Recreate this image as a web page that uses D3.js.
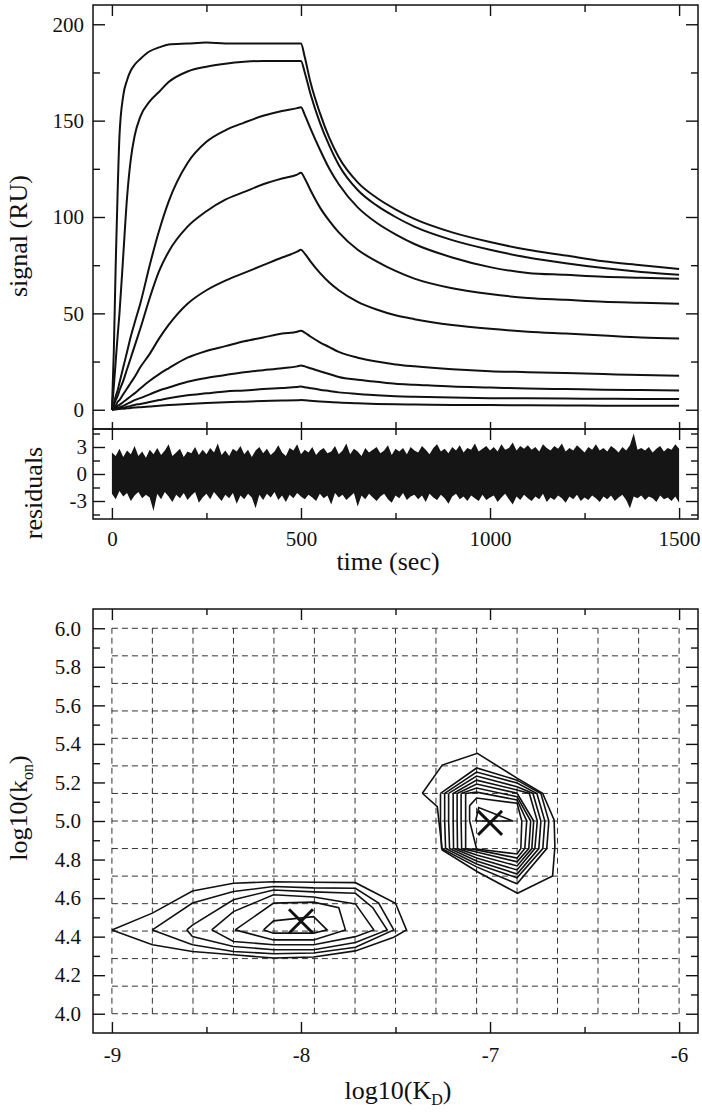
<!DOCTYPE html>
<html>
<head>
<meta charset="utf-8">
<script src="https://d3js.org/d3.v7.min.js"></script>
<style>
  body { margin: 0; background: #fff; }
  svg text { font-family: "Liberation Serif", "Times New Roman", serif; fill: #111; }
</style>
</head>
<body>
<div id="chart"></div>
<script>
// ---- sensorgram data (time in sec, signal in RU) ----
var sensorTimes = [0, 5, 10, 15, 20, 30, 40, 50, 60, 75, 100, 125, 150, 200, 250, 300, 350, 400, 450, 490, 500,
    510, 525, 550, 575, 600, 650, 700, 750, 800, 900, 1000, 1100, 1200, 1300, 1400, 1500];

var curve1 = [0, 30, 75, 112, 142, 163, 171, 176, 179, 182, 186, 188, 189.5, 190, 190.5, 190, 190, 190, 190, 190, 190,
    183, 170, 154, 141, 131, 118, 110, 104, 99, 92, 87, 83, 80, 77, 75, 73];
var curve2 = [0, 12, 25, 38, 50, 80, 110, 130, 142, 152, 160, 165, 170, 175.5, 178, 179.5, 180.5, 181, 181, 181, 181,
    175, 164, 149, 137, 127, 114, 106, 100, 95, 88, 83, 79, 76, 73.5, 71.5, 70];
var curve3 = [0, 3, 7, 10, 14, 22, 30, 38, 45, 55, 75, 93, 108, 128, 139, 145, 149, 152.5, 155, 156.5, 157,
    153, 146, 135, 125, 117, 105, 97, 91, 86, 79, 74, 71, 70, 69, 68.5, 68];
var curve4 = [0, 2, 5, 7, 10, 15, 21, 27, 33, 42, 58, 72, 82, 95, 103, 109, 113, 117, 120, 122, 123,
    120, 114, 105, 98, 92, 83, 77, 72, 68, 63, 60, 58, 57, 56, 55.5, 55];
var curve5 = [0, 1, 2, 4, 5, 8, 11, 14, 17, 22, 29, 37, 44, 55, 62, 67, 71, 75, 79, 82, 83,
    81, 77, 71, 66, 62, 56, 52, 49, 47, 44, 42, 40.5, 39.5, 38.5, 37.5, 37];
var curve6 = [0, 0.5, 1, 2, 2.5, 4, 5.5, 7, 8.5, 11, 15, 18.5, 21.5, 27, 30.5, 33, 35.5, 37.5, 39.5, 40.5, 41,
    40, 38, 35, 32.5, 30, 27, 25, 23.5, 22.5, 21, 20, 19.5, 19, 18.5, 18, 17.6];
var curve7 = [0, 0.3, 0.6, 1, 1.3, 2, 3, 4, 5, 6, 8, 10, 11.5, 14.5, 16.5, 18, 19.5, 20.5, 21.5, 22.5, 23,
    22.5, 21.5, 20, 18.5, 17, 15.5, 14.5, 13.5, 13, 12, 11.5, 11, 10.7, 10.4, 10.2, 10];
var curve8 = [0, 0.2, 0.3, 0.5, 0.7, 1, 1.5, 2, 2.5, 3, 4, 5, 6, 7.5, 8.5, 9.5, 10, 10.7, 11.3, 11.8, 12,
    11.7, 11.2, 10.4, 9.7, 9, 8.2, 7.5, 7, 6.7, 6.3, 6, 5.9, 5.8, 5.7, 5.6, 5.6];
var curve9 = [0, 0.1, 0.2, 0.3, 0.4, 0.5, 0.7, 0.9, 1.1, 1.3, 1.7, 2.1, 2.4, 3, 3.5, 3.9, 4.2, 4.5, 4.8, 4.95, 5,
    4.9, 4.6, 4.3, 4, 3.7, 3.3, 3, 2.8, 2.7, 2.5, 2.4, 2.3, 2.2, 2.1, 2.05, 2];
var curves = [curve1, curve2, curve3, curve4, curve5, curve6, curve7, curve8, curve9];

// ---- residual band, upper / lower envelope every 10 sec ----
var resHigh = [2.4, 2.0, 2.8, 1.9, 2.6, 2.2, 3.1, 2.0, 2.5, 1.8, 2.7,
    2.2, 2.9, 2.1, 2.6, 3.3, 2.0, 2.4, 2.8, 1.9, 2.5,
    2.3, 3.0, 2.1, 2.7, 2.2, 2.9, 2.4, 3.4, 2.1, 2.6,
    2.0, 2.8, 2.5, 3.1, 2.2, 2.7, 1.9, 2.6, 3.0, 2.3,
    2.8, 2.1, 2.5, 3.2, 2.4, 2.0, 2.9, 2.6, 3.3, 2.2,
    2.7, 2.4, 3.0, 2.1, 2.6, 2.9, 2.3, 2.5, 3.1, 2.2,
    2.6, 3.4, 2.2, 2.8, 2.5, 2.0, 2.9, 2.4, 2.7, 3.0,
    2.3, 2.6, 3.2, 2.1, 2.8, 2.5, 2.9, 2.2, 3.0, 2.6,
    2.4, 3.1, 2.7, 2.2, 2.9, 3.3, 2.5, 2.8, 2.3, 3.0,
    2.6, 3.2, 2.4, 2.9, 2.7, 3.4, 2.5, 2.8, 3.1, 2.6,
    3.0, 2.5, 3.3, 2.7, 2.9, 3.5, 2.6, 3.1, 2.8, 3.2,
    2.7, 3.0, 2.5, 3.3, 2.9, 2.6, 3.1, 2.8, 3.4, 2.5,
    2.9, 2.6, 3.2, 2.8, 2.4, 3.0, 2.7, 3.3, 2.6, 2.9,
    2.5, 3.1, 2.8, 2.4, 3.0, 2.6, 3.2, 4.5, 2.7, 2.9,
    2.6, 3.0, 2.4, 2.8, 3.1, 2.5, 2.9, 2.7, 3.3, 2.8];
var resLow = [-2.2, -2.8, -1.9, -2.5, -2.1, -3.0, -2.4, -2.0, -2.7, -2.3, -2.6,
    -4.1, -2.2, -2.8, -2.0, -2.5, -3.1, -2.3, -2.7, -2.1, -2.9,
    -2.4, -2.0, -3.2, -2.6, -2.2, -2.8, -2.0, -2.5, -3.0, -2.3,
    -2.7, -2.1, -3.3, -2.4, -2.8, -2.2, -2.6, -3.8, -2.3, -2.9,
    -2.2, -2.6, -2.0, -2.9, -2.4, -3.1, -2.3, -2.7, -2.1, -2.5,
    -2.8, -2.3, -2.6, -3.0, -2.2, -2.7, -2.4, -3.4, -2.1, -2.6,
    -2.3, -2.9, -2.5, -2.1, -3.6, -2.4, -2.8, -2.2, -2.6, -3.0,
    -2.5, -2.2, -2.8, -3.2, -2.4, -2.7, -2.1, -2.9, -2.5, -2.3,
    -2.8, -2.4, -3.1, -2.2, -2.6, -2.9, -2.3, -2.7, -3.3, -2.5,
    -2.2, -2.8, -2.5, -3.0, -2.4, -2.7, -3.0, -2.3, -2.9, -2.6,
    -2.4, -3.1, -2.6, -2.2, -2.8, -3.4, -2.5, -2.9, -2.3, -2.7,
    -3.0, -2.5, -2.8, -2.2, -3.1, -2.6, -2.9, -2.4, -2.7, -3.2,
    -2.5, -2.8, -2.3, -3.0, -2.6, -2.9, -2.4, -2.7, -3.1, -2.5,
    -2.8, -2.4, -3.0, -2.6, -2.3, -2.9, -3.8, -2.5, -2.7, -2.4,
    -2.9, -2.5, -2.7, -3.1, -2.4, -2.8, -2.6, -3.0, -2.5, -3.2];
var resTimes = resHigh.map((d, i) => i * 10);

// ---- error surface: grid and contour polygons [log10(KD), log10(kon)] ----
var kdGrid = [-9, -8.786, -8.571, -8.357, -8.143, -7.929, -7.714, -7.5, -7.286, -7.071, -6.857, -6.643, -6.429, -6.214, -6];
var konGrid = [4, 4.143, 4.286, 4.429, 4.571, 4.714, 4.857, 5, 5.143, 5.286, 5.429, 5.571, 5.714, 5.857, 6];

var contoursLow = [
    [[-9.0, 4.435], [-8.786, 4.522], [-8.574, 4.637], [-8.357, 4.677], [-8.145, 4.685], [-7.933, 4.682], [-7.712, 4.680], [-7.5, 4.573], [-7.442, 4.435],
     [-7.509, 4.397], [-7.712, 4.326], [-7.933, 4.294], [-8.145, 4.289], [-8.357, 4.306], [-8.574, 4.323], [-8.786, 4.358], [-9.0, 4.435]],
    [[-8.786, 4.435], [-8.574, 4.574], [-8.357, 4.634], [-8.145, 4.660], [-7.933, 4.653], [-7.712, 4.651], [-7.589, 4.574], [-7.509, 4.435],
     [-7.712, 4.345], [-7.933, 4.315], [-8.145, 4.311], [-8.357, 4.323], [-8.574, 4.358], [-8.786, 4.435]],
    [[-8.604, 4.435], [-8.574, 4.46], [-8.357, 4.591], [-8.145, 4.642], [-7.933, 4.632], [-7.712, 4.625], [-7.62, 4.55], [-7.544, 4.435],
     [-7.712, 4.37], [-7.933, 4.332], [-8.145, 4.332], [-8.357, 4.349], [-8.574, 4.401], [-8.604, 4.435]],
    [[-8.472, 4.435], [-8.357, 4.530], [-8.145, 4.617], [-7.933, 4.606], [-7.712, 4.57], [-7.615, 4.435],
     [-7.712, 4.40], [-7.933, 4.358], [-8.145, 4.358], [-8.357, 4.375], [-8.472, 4.435]],
    [[-8.348, 4.435], [-8.145, 4.574], [-7.933, 4.579], [-7.80, 4.55], [-7.765, 4.435],
     [-7.933, 4.383], [-8.145, 4.383], [-8.348, 4.435]],
    [[-8.198, 4.435], [-8.145, 4.482], [-7.933, 4.504], [-7.862, 4.435], [-7.933, 4.418], [-8.145, 4.418], [-8.198, 4.435]]
];

var contoursHigh = [
    [[-7.358, 5.144], [-7.253, 5.290], [-7.067, 5.351], [-6.855, 5.221], [-6.722, 5.144], [-6.661, 5.005], [-6.657, 4.867], [-6.669, 4.715],
     [-6.855, 4.625], [-7.067, 4.737], [-7.253, 4.850], [-7.279, 5.074], [-7.358, 5.144]],
    [[-7.262, 5.143], [-7.071, 5.275], [-6.857, 5.212], [-6.731, 5.143], [-6.689, 5.0], [-6.700, 4.857], [-6.857, 4.674], [-7.071, 4.762], [-7.256, 4.857], [-7.262, 5.0], [-7.262, 5.143]],
    [[-7.240, 5.143], [-7.071, 5.254], [-6.857, 5.197], [-6.752, 5.143], [-6.710, 5.0], [-6.721, 4.857], [-6.857, 4.705], [-7.071, 4.777], [-7.235, 4.857], [-7.240, 5.0], [-7.240, 5.143]],
    [[-7.219, 5.143], [-7.071, 5.233], [-6.857, 5.178], [-6.773, 5.143], [-6.731, 5.0], [-6.742, 4.857], [-6.857, 4.725], [-7.071, 4.793], [-7.214, 4.857], [-7.219, 5.0], [-7.219, 5.143]],
    [[-7.195, 5.143], [-7.071, 5.212], [-6.857, 5.161], [-6.792, 5.143], [-6.750, 5.0], [-6.763, 4.857], [-6.857, 4.746], [-7.071, 4.808], [-7.193, 4.857], [-7.195, 5.0], [-7.195, 5.143]],
    [[-7.174, 5.143], [-7.071, 5.192], [-6.857, 5.144], [-6.769, 5.0], [-6.779, 4.857], [-6.857, 4.767], [-7.071, 4.824], [-7.172, 4.857], [-7.174, 5.0], [-7.174, 5.143]],
    [[-7.153, 5.143], [-7.071, 5.171], [-6.857, 5.126], [-6.785, 5.0], [-6.795, 4.857], [-6.857, 4.788], [-7.071, 4.839], [-7.150, 4.857], [-7.153, 5.0], [-7.153, 5.143]],
    [[-7.129, 5.143], [-7.071, 5.150], [-6.857, 5.109], [-6.806, 5.0], [-6.816, 4.857], [-6.857, 4.808], [-7.071, 4.850], [-7.129, 4.857], [-7.129, 5.0], [-7.129, 5.143]],
    [[-7.108, 5.08], [-7.071, 5.119], [-6.857, 5.092], [-6.832, 5.0], [-6.837, 4.857], [-6.857, 4.829], [-7.071, 4.855], [-7.108, 5.0], [-7.108, 5.08]],
    [[-7.076, 5.0], [-7.060, 5.07], [-6.880, 5.0], [-7.076, 5.0]]
];

var bestFits = [[-8.0, 4.48], [-7.0, 4.99]];

// ---- ticks ----
var timeMajor = [0, 500, 1000, 1500], timeMinor = [250, 750, 1250];
var signalMajor = [0, 50, 100, 150, 200], signalMinor = [25, 75, 125, 175];
var resMajor = [-3, 0, 3], resMinor = [-4.5, -1.5, 1.5, 4.5];
var kdMajor = [-9, -8, -7, -6], kdMinor = [-8.5, -7.5, -6.5];
var konMajor = [4.0, 4.2, 4.4, 4.6, 4.8, 5.0, 5.2, 5.4, 5.6, 5.8, 6.0];
var konMinor = [4.1, 4.3, 4.5, 4.7, 4.9, 5.1, 5.3, 5.5, 5.7, 5.9];

// ---- layout ----
var W = 702, H = 1116;
var L = 93, R = 698;

var svg = d3.select("#chart").append("svg")
    .attr("width", W).attr("height", H)
    .style("display", "block");

var xTime = d3.scaleLinear().domain([-50, 1550]).range([L, R]);
var ySig = d3.scaleLinear().domain([-10, 210]).range([429, 5]);
var yRes = d3.scaleLinear().domain([-5, 5]).range([519, 429]);
var xKD = d3.scaleLinear().domain([-9.1, -5.9]).range([L, R]);
var yKon = d3.scaleLinear().domain([3.9, 6.1]).range([1033, 609]);

var ink = "#111";

// helper: draw an axis group with inward ticks
function ticks(axisFn, scale, values, size, y0, x0, labels, fmt, pad) {
    var a = axisFn(scale).tickValues(values).tickSize(-size)
        .tickPadding(pad || 8)
        .tickFormat(labels ? (fmt || (d => d)) : "");
    var g = svg.append("g")
        .attr("transform", `translate(${x0},${y0})`)
        .call(a);
    g.select(".domain").remove();
    g.selectAll("line").attr("stroke", ink).attr("stroke-width", 1.4);
    g.selectAll("text").attr("font-size", 21).style("font-family", '"Liberation Serif", "Times New Roman", serif').attr("fill", ink);
    return g;
}

// ================= top panel: sensorgrams =================
var line = d3.line()
    .x((d, i) => xTime(sensorTimes[i]))
    .y(d => ySig(d))
    .curve(d3.curveMonotoneX);

svg.append("g").selectAll("path")
    .data(curves)
    .enter().append("path")
    .attr("d", d => line(d))
    .attr("fill", "none")
    .attr("stroke", ink)
    .attr("stroke-width", 2)
    .attr("stroke-linejoin", "round");

// residual band
var area = d3.area()
    .x((d, i) => xTime(resTimes[i]))
    .y0((d, i) => yRes(resLow[i]))
    .y1(d => yRes(d));

svg.append("path")
    .attr("d", area(resHigh))
    .attr("fill", "#151515");

// frames
svg.append("rect").attr("x", L).attr("y", 5).attr("width", R - L).attr("height", 424)
    .attr("fill", "none").attr("stroke", ink).attr("stroke-width", 1.5);
svg.append("rect").attr("x", L).attr("y", 429).attr("width", R - L).attr("height", 90)
    .attr("fill", "none").attr("stroke", ink).attr("stroke-width", 1.5);

// top panel ticks
ticks(d3.axisLeft, ySig, signalMajor, 12, 0, L, true, null, 9);
ticks(d3.axisLeft, ySig, signalMinor, 7, 0, L, false);
ticks(d3.axisRight, ySig, signalMajor, 12, 0, R, false);
ticks(d3.axisRight, ySig, signalMinor, 7, 0, R, false);
ticks(d3.axisTop, xTime, timeMajor, 11, 5, 0, false);
ticks(d3.axisTop, xTime, timeMinor, 7, 5, 0, false);
ticks(d3.axisBottom, xTime, timeMajor.concat(timeMinor), 7, 429, 0, false);

// residual ticks
ticks(d3.axisLeft, yRes, resMajor, 12, 0, L, true, null, 6);
ticks(d3.axisLeft, yRes, resMinor, 7, 0, L, false);
ticks(d3.axisRight, yRes, resMajor, 12, 0, R, false);
ticks(d3.axisRight, yRes, resMinor, 7, 0, R, false);
ticks(d3.axisTop, xTime, timeMajor, 11, 429, 0, false);
ticks(d3.axisTop, xTime, timeMinor, 6, 429, 0, false);
ticks(d3.axisBottom, xTime, timeMajor, 11, 519, 0, true, null, 12);
ticks(d3.axisBottom, xTime, timeMinor, 6, 519, 0, false);

// titles
svg.append("text")
    .attr("transform", "translate(27,236) rotate(-90)")
    .attr("text-anchor", "middle").attr("font-size", 26)
    .text("signal (RU)");
svg.append("text")
    .attr("transform", "translate(42,493) rotate(-90)")
    .attr("text-anchor", "middle").attr("font-size", 26)
    .text("residuals");
svg.append("text")
    .attr("x", 388).attr("y", 570)
    .attr("text-anchor", "middle").attr("font-size", 26)
    .text("time (sec)");

// ================= bottom panel: error contours =================
var grid = svg.append("g")
    .attr("stroke", "#333").attr("stroke-width", 1)
    .attr("stroke-dasharray", "6,4");
grid.selectAll("line.v").data(kdGrid).enter().append("line")
    .attr("x1", d => xKD(d)).attr("x2", d => xKD(d))
    .attr("y1", yKon(4)).attr("y2", yKon(6));
grid.selectAll("line.h").data(konGrid).enter().append("line")
    .attr("y1", d => yKon(d)).attr("y2", d => yKon(d))
    .attr("x1", xKD(-9)).attr("x2", xKD(-6));

var cline = d3.line().x(d => xKD(d[0])).y(d => yKon(d[1]));
svg.append("g").selectAll("path")
    .data(contoursLow.concat(contoursHigh))
    .enter().append("path")
    .attr("d", d => cline(d))
    .attr("fill", "none")
    .attr("stroke", ink)
    .attr("stroke-width", 1.6)
    .attr("stroke-linejoin", "miter");

// best-fit crosses
var cross = svg.append("g").attr("stroke", ink).attr("stroke-width", 3);
bestFits.forEach(function (p) {
    var cx = xKD(p[0]), cy = yKon(p[1]), s = 12;
    cross.append("line").attr("x1", cx - s).attr("y1", cy - s).attr("x2", cx + s).attr("y2", cy + s);
    cross.append("line").attr("x1", cx - s).attr("y1", cy + s).attr("x2", cx + s).attr("y2", cy - s);
});

svg.append("rect").attr("x", L).attr("y", 609).attr("width", R - L).attr("height", 424)
    .attr("fill", "none").attr("stroke", ink).attr("stroke-width", 1.5);

ticks(d3.axisLeft, yKon, konMajor, 12, 0, L, true, d3.format(".1f"), 12);
ticks(d3.axisLeft, yKon, konMinor, 7, 0, L, false);
ticks(d3.axisRight, yKon, konMajor, 12, 0, R, false);
ticks(d3.axisRight, yKon, konMinor, 7, 0, R, false);
ticks(d3.axisBottom, xKD, kdMajor, 11, 1033, 0, true, d => d, 14);
ticks(d3.axisBottom, xKD, kdMinor, 6, 1033, 0, false);
ticks(d3.axisTop, xKD, kdMajor, 11, 609, 0, false);
ticks(d3.axisTop, xKD, kdMinor, 6, 609, 0, false);

// titles
var ytitle = svg.append("text")
    .attr("transform", "translate(27,808) rotate(-90)")
    .attr("text-anchor", "middle").attr("font-size", 26);
ytitle.append("tspan").text("log10(k");
ytitle.append("tspan").attr("font-size", 16).attr("dy", 6).text("on");
ytitle.append("tspan").attr("dy", -6).text(")");

var xtitle = svg.append("text")
    .attr("x", 398).attr("y", 1099)
    .attr("text-anchor", "middle").attr("font-size", 26);
xtitle.append("tspan").text("log10(K");
xtitle.append("tspan").attr("font-size", 16).attr("dy", 6).text("D");
xtitle.append("tspan").attr("dy", -6).text(")");
</script>
</body>
</html>
